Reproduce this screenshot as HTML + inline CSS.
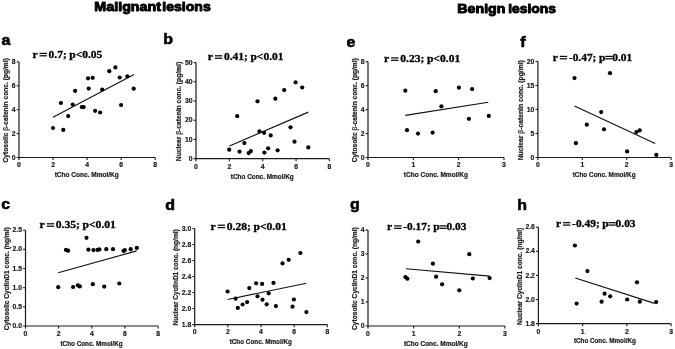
<!DOCTYPE html>
<html><head><meta charset="utf-8"><title>Scatter plots</title>
<style>html,body{margin:0;padding:0;background:#fff;}body{width:675px;height:349px;overflow:hidden;}svg{display:block;filter:grayscale(1) blur(0.3px);}</style>
</head><body>
<svg width="675" height="349" viewBox="0 0 675 349">
<rect width="675" height="349" fill="#fff"/>
<text x="94.38" y="11.1" font-family="'Liberation Sans', sans-serif" font-weight="bold" font-size="12.4" textLength="66.64" lengthAdjust="spacingAndGlyphs" fill="#000" stroke="#000" stroke-width="0.9" stroke-linejoin="round">Malignant</text>
<text x="162.38" y="11.1" font-family="'Liberation Sans', sans-serif" font-weight="bold" font-size="12.4" textLength="48.34" lengthAdjust="spacingAndGlyphs" fill="#000" stroke="#000" stroke-width="0.9" stroke-linejoin="round">lesions</text>
<text x="457.38" y="13.3" font-family="'Liberation Sans', sans-serif" font-weight="bold" font-size="12.4" textLength="48.04" lengthAdjust="spacingAndGlyphs" fill="#000" stroke="#000" stroke-width="0.9" stroke-linejoin="round">Benign</text>
<text x="508.28" y="13.3" font-family="'Liberation Sans', sans-serif" font-weight="bold" font-size="12.4" textLength="47.74" lengthAdjust="spacingAndGlyphs" fill="#000" stroke="#000" stroke-width="0.9" stroke-linejoin="round">lesions</text>
<text transform="translate(1.52,44.6) scale(1.1,1)" font-family="'Liberation Sans', sans-serif" font-weight="bold" font-size="14.5" fill="#000" stroke="#000" stroke-width="0.55">a</text>
<text transform="translate(32.41,57.8) scale(1.084,1)" font-family="'Liberation Serif', serif" font-weight="bold" font-size="10.6" fill="#000" stroke="#000" stroke-width="0.3">r</text>
<rect x="39.50" y="52.80" width="7.4" height="1.2" fill="#000"/>
<rect x="39.50" y="55.20" width="7.4" height="1.2" fill="#000"/>
<text transform="translate(48.54,57.8) scale(1.084,1)" font-family="'Liberation Serif', serif" font-weight="bold" font-size="10.6" fill="#000" stroke="#000" stroke-width="0.3">0.7;</text>
<text transform="translate(69.26,57.8) scale(1.084,1)" font-family="'Liberation Serif', serif" font-weight="bold" font-size="10.6" fill="#000" stroke="#000" stroke-width="0.3">p&lt;0.05</text>
<line x1="19" y1="61.9" x2="19" y2="160.1" stroke="#1a1a1a" stroke-width="1.2"/>
<line x1="16.6" y1="157.5" x2="155.2" y2="157.5" stroke="#1a1a1a" stroke-width="1.2"/>
<text x="19.00" y="167.30" font-family="'Liberation Sans', sans-serif" font-weight="bold" font-size="6.8" text-anchor="middle" fill="#1a1a1a" stroke="#1a1a1a" stroke-width="0.2">0</text>
<line x1="53.05" y1="157.5" x2="53.05" y2="160.1" stroke="#1a1a1a" stroke-width="1.1"/>
<text x="53.05" y="167.30" font-family="'Liberation Sans', sans-serif" font-weight="bold" font-size="6.8" text-anchor="middle" fill="#1a1a1a" stroke="#1a1a1a" stroke-width="0.2">2</text>
<line x1="87.10" y1="157.5" x2="87.10" y2="160.1" stroke="#1a1a1a" stroke-width="1.1"/>
<text x="87.10" y="167.30" font-family="'Liberation Sans', sans-serif" font-weight="bold" font-size="6.8" text-anchor="middle" fill="#1a1a1a" stroke="#1a1a1a" stroke-width="0.2">4</text>
<line x1="121.15" y1="157.5" x2="121.15" y2="160.1" stroke="#1a1a1a" stroke-width="1.1"/>
<text x="121.15" y="167.30" font-family="'Liberation Sans', sans-serif" font-weight="bold" font-size="6.8" text-anchor="middle" fill="#1a1a1a" stroke="#1a1a1a" stroke-width="0.2">6</text>
<line x1="155.20" y1="157.5" x2="155.20" y2="160.1" stroke="#1a1a1a" stroke-width="1.1"/>
<text x="155.20" y="167.30" font-family="'Liberation Sans', sans-serif" font-weight="bold" font-size="6.8" text-anchor="middle" fill="#1a1a1a" stroke="#1a1a1a" stroke-width="0.2">8</text>
<text x="15.5" y="159.60" font-family="'Liberation Sans', sans-serif" font-weight="bold" font-size="6.8" text-anchor="end" fill="#1a1a1a" stroke="#1a1a1a" stroke-width="0.2">0</text>
<line x1="16.6" y1="133.60" x2="19" y2="133.60" stroke="#1a1a1a" stroke-width="1.1"/>
<text x="15.5" y="135.70" font-family="'Liberation Sans', sans-serif" font-weight="bold" font-size="6.8" text-anchor="end" fill="#1a1a1a" stroke="#1a1a1a" stroke-width="0.2">2</text>
<line x1="16.6" y1="109.70" x2="19" y2="109.70" stroke="#1a1a1a" stroke-width="1.1"/>
<text x="15.5" y="111.80" font-family="'Liberation Sans', sans-serif" font-weight="bold" font-size="6.8" text-anchor="end" fill="#1a1a1a" stroke="#1a1a1a" stroke-width="0.2">4</text>
<line x1="16.6" y1="85.80" x2="19" y2="85.80" stroke="#1a1a1a" stroke-width="1.1"/>
<text x="15.5" y="87.90" font-family="'Liberation Sans', sans-serif" font-weight="bold" font-size="6.8" text-anchor="end" fill="#1a1a1a" stroke="#1a1a1a" stroke-width="0.2">6</text>
<line x1="16.6" y1="61.90" x2="19" y2="61.90" stroke="#1a1a1a" stroke-width="1.1"/>
<text x="15.5" y="64.00" font-family="'Liberation Sans', sans-serif" font-weight="bold" font-size="6.8" text-anchor="end" fill="#1a1a1a" stroke="#1a1a1a" stroke-width="0.2">8</text>
<text transform="translate(7.7,110.35) rotate(-90)" x="0" y="0" font-family="'Liberation Sans', sans-serif" font-weight="bold" font-size="6.5" text-anchor="middle" textLength="104.3" lengthAdjust="spacingAndGlyphs" fill="#1a1a1a" stroke="#1a1a1a" stroke-width="0.2">Cytosolic <tspan font-weight="normal">β</tspan>-catenin conc. (pg/ml)</text>
<text x="54.70" y="176.9" font-family="'Liberation Sans', sans-serif" font-weight="bold" font-size="6.5" textLength="64.1" lengthAdjust="spacingAndGlyphs" fill="#1a1a1a" stroke="#1a1a1a" stroke-width="0.2">tCho Conc. Mmol/Kg</text>
<line x1="53" y1="117.2" x2="134" y2="74.6" stroke="#111" stroke-width="1.15"/>
<circle cx="53.0" cy="128.0" r="2.1" fill="#000"/>
<circle cx="63.3" cy="129.9" r="2.1" fill="#000"/>
<circle cx="60.9" cy="103.0" r="2.1" fill="#000"/>
<circle cx="68.2" cy="116.1" r="2.1" fill="#000"/>
<circle cx="75.1" cy="90.8" r="2.1" fill="#000"/>
<circle cx="72.7" cy="104.5" r="2.1" fill="#000"/>
<circle cx="81.8" cy="107.1" r="2.1" fill="#000"/>
<circle cx="83.7" cy="107.1" r="2.1" fill="#000"/>
<circle cx="88.0" cy="78.3" r="2.1" fill="#000"/>
<circle cx="92.7" cy="77.8" r="2.1" fill="#000"/>
<circle cx="88.7" cy="88.6" r="2.1" fill="#000"/>
<circle cx="95.1" cy="110.8" r="2.1" fill="#000"/>
<circle cx="100.1" cy="112.5" r="2.1" fill="#000"/>
<circle cx="102.2" cy="89.5" r="2.1" fill="#000"/>
<circle cx="109.3" cy="71.2" r="2.1" fill="#000"/>
<circle cx="115.4" cy="67.4" r="2.1" fill="#000"/>
<circle cx="119.7" cy="77.5" r="2.1" fill="#000"/>
<circle cx="121.1" cy="105" r="2.1" fill="#000"/>
<circle cx="127.4" cy="76.3" r="2.1" fill="#000"/>
<circle cx="133.7" cy="88.7" r="2.1" fill="#000"/>
<text transform="translate(163.26,43.6) scale(1.1,1)" font-family="'Liberation Sans', sans-serif" font-weight="bold" font-size="14.5" fill="#000" stroke="#000" stroke-width="0.55">b</text>
<text transform="translate(207.81,60.2) scale(1.086,1)" font-family="'Liberation Serif', serif" font-weight="bold" font-size="10.6" fill="#000" stroke="#000" stroke-width="0.3">r</text>
<rect x="214.91" y="55.20" width="7.4" height="1.2" fill="#000"/>
<rect x="214.91" y="57.60" width="7.4" height="1.2" fill="#000"/>
<text transform="translate(223.95,60.2) scale(1.086,1)" font-family="'Liberation Serif', serif" font-weight="bold" font-size="10.6" fill="#000" stroke="#000" stroke-width="0.3">0.41;</text>
<text transform="translate(250.46,60.2) scale(1.086,1)" font-family="'Liberation Serif', serif" font-weight="bold" font-size="10.6" fill="#000" stroke="#000" stroke-width="0.3">p&lt;0.01</text>
<line x1="196" y1="62.6" x2="196" y2="161.29999999999998" stroke="#1a1a1a" stroke-width="1.2"/>
<line x1="193.6" y1="158.7" x2="329.4" y2="158.7" stroke="#1a1a1a" stroke-width="1.2"/>
<text x="196.00" y="168.50" font-family="'Liberation Sans', sans-serif" font-weight="bold" font-size="6.8" text-anchor="middle" fill="#1a1a1a" stroke="#1a1a1a" stroke-width="0.2">0</text>
<line x1="229.35" y1="158.7" x2="229.35" y2="161.29999999999998" stroke="#1a1a1a" stroke-width="1.1"/>
<text x="229.35" y="168.50" font-family="'Liberation Sans', sans-serif" font-weight="bold" font-size="6.8" text-anchor="middle" fill="#1a1a1a" stroke="#1a1a1a" stroke-width="0.2">2</text>
<line x1="262.70" y1="158.7" x2="262.70" y2="161.29999999999998" stroke="#1a1a1a" stroke-width="1.1"/>
<text x="262.70" y="168.50" font-family="'Liberation Sans', sans-serif" font-weight="bold" font-size="6.8" text-anchor="middle" fill="#1a1a1a" stroke="#1a1a1a" stroke-width="0.2">4</text>
<line x1="296.05" y1="158.7" x2="296.05" y2="161.29999999999998" stroke="#1a1a1a" stroke-width="1.1"/>
<text x="296.05" y="168.50" font-family="'Liberation Sans', sans-serif" font-weight="bold" font-size="6.8" text-anchor="middle" fill="#1a1a1a" stroke="#1a1a1a" stroke-width="0.2">6</text>
<line x1="329.40" y1="158.7" x2="329.40" y2="161.29999999999998" stroke="#1a1a1a" stroke-width="1.1"/>
<text x="329.40" y="168.50" font-family="'Liberation Sans', sans-serif" font-weight="bold" font-size="6.8" text-anchor="middle" fill="#1a1a1a" stroke="#1a1a1a" stroke-width="0.2">8</text>
<text x="192.5" y="160.80" font-family="'Liberation Sans', sans-serif" font-weight="bold" font-size="6.8" text-anchor="end" fill="#1a1a1a" stroke="#1a1a1a" stroke-width="0.2">0</text>
<line x1="193.6" y1="139.48" x2="196" y2="139.48" stroke="#1a1a1a" stroke-width="1.1"/>
<text x="192.5" y="141.58" font-family="'Liberation Sans', sans-serif" font-weight="bold" font-size="6.8" text-anchor="end" fill="#1a1a1a" stroke="#1a1a1a" stroke-width="0.2">10</text>
<line x1="193.6" y1="120.26" x2="196" y2="120.26" stroke="#1a1a1a" stroke-width="1.1"/>
<text x="192.5" y="122.36" font-family="'Liberation Sans', sans-serif" font-weight="bold" font-size="6.8" text-anchor="end" fill="#1a1a1a" stroke="#1a1a1a" stroke-width="0.2">20</text>
<line x1="193.6" y1="101.04" x2="196" y2="101.04" stroke="#1a1a1a" stroke-width="1.1"/>
<text x="192.5" y="103.14" font-family="'Liberation Sans', sans-serif" font-weight="bold" font-size="6.8" text-anchor="end" fill="#1a1a1a" stroke="#1a1a1a" stroke-width="0.2">30</text>
<line x1="193.6" y1="81.82" x2="196" y2="81.82" stroke="#1a1a1a" stroke-width="1.1"/>
<text x="192.5" y="83.92" font-family="'Liberation Sans', sans-serif" font-weight="bold" font-size="6.8" text-anchor="end" fill="#1a1a1a" stroke="#1a1a1a" stroke-width="0.2">40</text>
<line x1="193.6" y1="62.60" x2="196" y2="62.60" stroke="#1a1a1a" stroke-width="1.1"/>
<text x="192.5" y="64.70" font-family="'Liberation Sans', sans-serif" font-weight="bold" font-size="6.8" text-anchor="end" fill="#1a1a1a" stroke="#1a1a1a" stroke-width="0.2">50</text>
<text transform="translate(181,111.55) rotate(-90)" x="0" y="0" font-family="'Liberation Sans', sans-serif" font-weight="bold" font-size="6.5" text-anchor="middle" textLength="99.3" lengthAdjust="spacingAndGlyphs" fill="#1a1a1a" stroke="#1a1a1a" stroke-width="0.2">Nuclear <tspan font-weight="normal">β</tspan>-catenin conc. (pg/ml)</text>
<text x="230.80" y="178.6" font-family="'Liberation Sans', sans-serif" font-weight="bold" font-size="6.5" textLength="63.0" lengthAdjust="spacingAndGlyphs" fill="#1a1a1a" stroke="#1a1a1a" stroke-width="0.2">tCho Conc. Mmol/Kg</text>
<line x1="229.5" y1="146" x2="308.3" y2="112.1" stroke="#111" stroke-width="1.15"/>
<circle cx="229.2" cy="149.7" r="2.1" fill="#000"/>
<circle cx="237.2" cy="116.2" r="2.1" fill="#000"/>
<circle cx="239.5" cy="151.7" r="2.1" fill="#000"/>
<circle cx="244.4" cy="143.1" r="2.1" fill="#000"/>
<circle cx="248.7" cy="153.1" r="2.1" fill="#000"/>
<circle cx="250.9" cy="151.1" r="2.1" fill="#000"/>
<circle cx="257.5" cy="101.3" r="2.1" fill="#000"/>
<circle cx="259.5" cy="131.3" r="2.1" fill="#000"/>
<circle cx="264.1" cy="132.8" r="2.1" fill="#000"/>
<circle cx="264.4" cy="152.6" r="2.1" fill="#000"/>
<circle cx="268.1" cy="148.3" r="2.1" fill="#000"/>
<circle cx="270.7" cy="135.4" r="2.1" fill="#000"/>
<circle cx="275.3" cy="98.7" r="2.1" fill="#000"/>
<circle cx="277.6" cy="150.3" r="2.1" fill="#000"/>
<circle cx="284.2" cy="90.1" r="2.1" fill="#000"/>
<circle cx="290.5" cy="127.3" r="2.1" fill="#000"/>
<circle cx="294.5" cy="141.7" r="2.1" fill="#000"/>
<circle cx="295.6" cy="82.3" r="2.1" fill="#000"/>
<circle cx="302.2" cy="87.5" r="2.1" fill="#000"/>
<circle cx="308.3" cy="147.4" r="2.1" fill="#000"/>
<text transform="translate(346.56,46.9) scale(1.1,1)" font-family="'Liberation Sans', sans-serif" font-weight="bold" font-size="14.5" fill="#000" stroke="#000" stroke-width="0.55">e</text>
<text transform="translate(384.01,62.3) scale(1.095,1)" font-family="'Liberation Serif', serif" font-weight="bold" font-size="10.6" fill="#000" stroke="#000" stroke-width="0.3">r</text>
<rect x="391.14" y="57.30" width="7.4" height="1.2" fill="#000"/>
<rect x="391.14" y="59.70" width="7.4" height="1.2" fill="#000"/>
<text transform="translate(400.18,62.3) scale(1.095,1)" font-family="'Liberation Serif', serif" font-weight="bold" font-size="10.6" fill="#000" stroke="#000" stroke-width="0.3">0.23;</text>
<text transform="translate(426.89,62.3) scale(1.095,1)" font-family="'Liberation Serif', serif" font-weight="bold" font-size="10.6" fill="#000" stroke="#000" stroke-width="0.3">p&lt;0.01</text>
<line x1="368" y1="61.7" x2="368" y2="160.1" stroke="#1a1a1a" stroke-width="1.2"/>
<line x1="365.6" y1="157.5" x2="504" y2="157.5" stroke="#1a1a1a" stroke-width="1.2"/>
<text x="368.00" y="167.30" font-family="'Liberation Sans', sans-serif" font-weight="bold" font-size="6.8" text-anchor="middle" fill="#1a1a1a" stroke="#1a1a1a" stroke-width="0.2">0</text>
<line x1="413.33" y1="157.5" x2="413.33" y2="160.1" stroke="#1a1a1a" stroke-width="1.1"/>
<text x="413.33" y="167.30" font-family="'Liberation Sans', sans-serif" font-weight="bold" font-size="6.8" text-anchor="middle" fill="#1a1a1a" stroke="#1a1a1a" stroke-width="0.2">1</text>
<line x1="458.67" y1="157.5" x2="458.67" y2="160.1" stroke="#1a1a1a" stroke-width="1.1"/>
<text x="458.67" y="167.30" font-family="'Liberation Sans', sans-serif" font-weight="bold" font-size="6.8" text-anchor="middle" fill="#1a1a1a" stroke="#1a1a1a" stroke-width="0.2">2</text>
<line x1="504.00" y1="157.5" x2="504.00" y2="160.1" stroke="#1a1a1a" stroke-width="1.1"/>
<text x="504.00" y="167.30" font-family="'Liberation Sans', sans-serif" font-weight="bold" font-size="6.8" text-anchor="middle" fill="#1a1a1a" stroke="#1a1a1a" stroke-width="0.2">3</text>
<text x="364.5" y="159.60" font-family="'Liberation Sans', sans-serif" font-weight="bold" font-size="6.8" text-anchor="end" fill="#1a1a1a" stroke="#1a1a1a" stroke-width="0.2">0</text>
<line x1="365.6" y1="133.55" x2="368" y2="133.55" stroke="#1a1a1a" stroke-width="1.1"/>
<text x="364.5" y="135.65" font-family="'Liberation Sans', sans-serif" font-weight="bold" font-size="6.8" text-anchor="end" fill="#1a1a1a" stroke="#1a1a1a" stroke-width="0.2">2</text>
<line x1="365.6" y1="109.60" x2="368" y2="109.60" stroke="#1a1a1a" stroke-width="1.1"/>
<text x="364.5" y="111.70" font-family="'Liberation Sans', sans-serif" font-weight="bold" font-size="6.8" text-anchor="end" fill="#1a1a1a" stroke="#1a1a1a" stroke-width="0.2">4</text>
<line x1="365.6" y1="85.65" x2="368" y2="85.65" stroke="#1a1a1a" stroke-width="1.1"/>
<text x="364.5" y="87.75" font-family="'Liberation Sans', sans-serif" font-weight="bold" font-size="6.8" text-anchor="end" fill="#1a1a1a" stroke="#1a1a1a" stroke-width="0.2">6</text>
<line x1="365.6" y1="61.70" x2="368" y2="61.70" stroke="#1a1a1a" stroke-width="1.1"/>
<text x="364.5" y="63.80" font-family="'Liberation Sans', sans-serif" font-weight="bold" font-size="6.8" text-anchor="end" fill="#1a1a1a" stroke="#1a1a1a" stroke-width="0.2">8</text>
<text transform="translate(357.2,110.20) rotate(-90)" x="0" y="0" font-family="'Liberation Sans', sans-serif" font-weight="bold" font-size="6.5" text-anchor="middle" textLength="104.0" lengthAdjust="spacingAndGlyphs" fill="#1a1a1a" stroke="#1a1a1a" stroke-width="0.2">Cytosolic <tspan font-weight="normal">β</tspan>-catenin conc. (pg/ml)</text>
<text x="403.80" y="177" font-family="'Liberation Sans', sans-serif" font-weight="bold" font-size="6.5" textLength="64.2" lengthAdjust="spacingAndGlyphs" fill="#1a1a1a" stroke="#1a1a1a" stroke-width="0.2">tCho Conc. Mmol/Kg</text>
<line x1="405.3" y1="115.4" x2="488.3" y2="102.3" stroke="#111" stroke-width="1.15"/>
<circle cx="405.3" cy="90.7" r="2.1" fill="#000"/>
<circle cx="435.7" cy="91.2" r="2.1" fill="#000"/>
<circle cx="458.9" cy="87.7" r="2.1" fill="#000"/>
<circle cx="472.1" cy="89.1" r="2.1" fill="#000"/>
<circle cx="441.4" cy="106.3" r="2.1" fill="#000"/>
<circle cx="468.9" cy="118.8" r="2.1" fill="#000"/>
<circle cx="488.8" cy="115.9" r="2.1" fill="#000"/>
<circle cx="407" cy="130.2" r="2.1" fill="#000"/>
<circle cx="418" cy="133.6" r="2.1" fill="#000"/>
<circle cx="432.6" cy="132.6" r="2.1" fill="#000"/>
<text transform="translate(520.36,46.9) scale(1.1,1)" font-family="'Liberation Sans', sans-serif" font-weight="bold" font-size="14.5" fill="#000" stroke="#000" stroke-width="0.55">f</text>
<text transform="translate(552.71,60.8) scale(1.077,1)" font-family="'Liberation Serif', serif" font-weight="bold" font-size="10.6" fill="#000" stroke="#000" stroke-width="0.3">r</text>
<rect x="559.76" y="55.80" width="7.4" height="1.2" fill="#000"/>
<rect x="559.76" y="58.20" width="7.4" height="1.2" fill="#000"/>
<text transform="translate(568.87,60.8) scale(1.077,1)" font-family="'Liberation Serif', serif" font-weight="bold" font-size="10.6" fill="#000" stroke="#000" stroke-width="0.3">-0.47;</text>
<text transform="translate(598.98,60.8) scale(1.077,1)" font-family="'Liberation Serif', serif" font-weight="bold" font-size="10.6" fill="#000" stroke="#000" stroke-width="0.3">p</text>
<rect x="605.16" y="55.80" width="7.3" height="1.2" fill="#000"/>
<rect x="605.16" y="58.20" width="7.3" height="1.2" fill="#000"/>
<text transform="translate(612.30,60.8) scale(1.077,1)" font-family="'Liberation Serif', serif" font-weight="bold" font-size="10.6" fill="#000" stroke="#000" stroke-width="0.3">0.01</text>
<line x1="537.9" y1="61.4" x2="537.9" y2="160.1" stroke="#1a1a1a" stroke-width="1.2"/>
<line x1="535.5" y1="157.5" x2="671.1" y2="157.5" stroke="#1a1a1a" stroke-width="1.2"/>
<text x="537.90" y="167.30" font-family="'Liberation Sans', sans-serif" font-weight="bold" font-size="6.8" text-anchor="middle" fill="#1a1a1a" stroke="#1a1a1a" stroke-width="0.2">0</text>
<line x1="582.30" y1="157.5" x2="582.30" y2="160.1" stroke="#1a1a1a" stroke-width="1.1"/>
<text x="582.30" y="167.30" font-family="'Liberation Sans', sans-serif" font-weight="bold" font-size="6.8" text-anchor="middle" fill="#1a1a1a" stroke="#1a1a1a" stroke-width="0.2">1</text>
<line x1="626.70" y1="157.5" x2="626.70" y2="160.1" stroke="#1a1a1a" stroke-width="1.1"/>
<text x="626.70" y="167.30" font-family="'Liberation Sans', sans-serif" font-weight="bold" font-size="6.8" text-anchor="middle" fill="#1a1a1a" stroke="#1a1a1a" stroke-width="0.2">2</text>
<line x1="671.10" y1="157.5" x2="671.10" y2="160.1" stroke="#1a1a1a" stroke-width="1.1"/>
<text x="671.10" y="167.30" font-family="'Liberation Sans', sans-serif" font-weight="bold" font-size="6.8" text-anchor="middle" fill="#1a1a1a" stroke="#1a1a1a" stroke-width="0.2">3</text>
<text x="534.4" y="159.60" font-family="'Liberation Sans', sans-serif" font-weight="bold" font-size="6.8" text-anchor="end" fill="#1a1a1a" stroke="#1a1a1a" stroke-width="0.2">0</text>
<line x1="535.5" y1="133.47" x2="537.9" y2="133.47" stroke="#1a1a1a" stroke-width="1.1"/>
<text x="534.4" y="135.57" font-family="'Liberation Sans', sans-serif" font-weight="bold" font-size="6.8" text-anchor="end" fill="#1a1a1a" stroke="#1a1a1a" stroke-width="0.2">5</text>
<line x1="535.5" y1="109.45" x2="537.9" y2="109.45" stroke="#1a1a1a" stroke-width="1.1"/>
<text x="534.4" y="111.55" font-family="'Liberation Sans', sans-serif" font-weight="bold" font-size="6.8" text-anchor="end" fill="#1a1a1a" stroke="#1a1a1a" stroke-width="0.2">10</text>
<line x1="535.5" y1="85.43" x2="537.9" y2="85.43" stroke="#1a1a1a" stroke-width="1.1"/>
<text x="534.4" y="87.53" font-family="'Liberation Sans', sans-serif" font-weight="bold" font-size="6.8" text-anchor="end" fill="#1a1a1a" stroke="#1a1a1a" stroke-width="0.2">15</text>
<line x1="535.5" y1="61.40" x2="537.9" y2="61.40" stroke="#1a1a1a" stroke-width="1.1"/>
<text x="534.4" y="63.50" font-family="'Liberation Sans', sans-serif" font-weight="bold" font-size="6.8" text-anchor="end" fill="#1a1a1a" stroke="#1a1a1a" stroke-width="0.2">20</text>
<text transform="translate(523,110.25) rotate(-90)" x="0" y="0" font-family="'Liberation Sans', sans-serif" font-weight="bold" font-size="6.5" text-anchor="middle" textLength="100.1" lengthAdjust="spacingAndGlyphs" fill="#1a1a1a" stroke="#1a1a1a" stroke-width="0.2">Nuclear <tspan font-weight="normal">β</tspan>-catenin conc. (pg/ml)</text>
<text x="572.70" y="177" font-family="'Liberation Sans', sans-serif" font-weight="bold" font-size="6.5" textLength="62.9" lengthAdjust="spacingAndGlyphs" fill="#1a1a1a" stroke="#1a1a1a" stroke-width="0.2">tCho Conc. Mmol/Kg</text>
<line x1="574.5" y1="105.9" x2="655.2" y2="143.5" stroke="#111" stroke-width="1.15"/>
<circle cx="574.5" cy="78.1" r="2.1" fill="#000"/>
<circle cx="610" cy="73.2" r="2.1" fill="#000"/>
<circle cx="601.2" cy="112.1" r="2.1" fill="#000"/>
<circle cx="586.8" cy="124.7" r="2.1" fill="#000"/>
<circle cx="604" cy="129.3" r="2.1" fill="#000"/>
<circle cx="575.9" cy="143.2" r="2.1" fill="#000"/>
<circle cx="636.4" cy="132" r="2.1" fill="#000"/>
<circle cx="639.7" cy="130.4" r="2.1" fill="#000"/>
<circle cx="627.1" cy="151.4" r="2.1" fill="#000"/>
<circle cx="656.3" cy="154.9" r="2.1" fill="#000"/>
<text transform="translate(1.36,209) scale(1.1,1)" font-family="'Liberation Sans', sans-serif" font-weight="bold" font-size="14.5" fill="#000" stroke="#000" stroke-width="0.55">c</text>
<text transform="translate(39.61,228.2) scale(1.097,1)" font-family="'Liberation Serif', serif" font-weight="bold" font-size="10.6" fill="#000" stroke="#000" stroke-width="0.3">r</text>
<rect x="46.75" y="223.20" width="7.4" height="1.2" fill="#000"/>
<rect x="46.75" y="225.60" width="7.4" height="1.2" fill="#000"/>
<text transform="translate(55.79,228.2) scale(1.097,1)" font-family="'Liberation Serif', serif" font-weight="bold" font-size="10.6" fill="#000" stroke="#000" stroke-width="0.3">0.35;</text>
<text transform="translate(82.53,228.2) scale(1.097,1)" font-family="'Liberation Serif', serif" font-weight="bold" font-size="10.6" fill="#000" stroke="#000" stroke-width="0.3">p&lt;0.01</text>
<line x1="25.5" y1="230.2" x2="25.5" y2="328.6" stroke="#1a1a1a" stroke-width="1.2"/>
<line x1="23.1" y1="326" x2="158.1" y2="326" stroke="#1a1a1a" stroke-width="1.2"/>
<text x="25.50" y="335.80" font-family="'Liberation Sans', sans-serif" font-weight="bold" font-size="6.8" text-anchor="middle" fill="#1a1a1a" stroke="#1a1a1a" stroke-width="0.2">0</text>
<line x1="58.65" y1="326" x2="58.65" y2="328.6" stroke="#1a1a1a" stroke-width="1.1"/>
<text x="58.65" y="335.80" font-family="'Liberation Sans', sans-serif" font-weight="bold" font-size="6.8" text-anchor="middle" fill="#1a1a1a" stroke="#1a1a1a" stroke-width="0.2">2</text>
<line x1="91.80" y1="326" x2="91.80" y2="328.6" stroke="#1a1a1a" stroke-width="1.1"/>
<text x="91.80" y="335.80" font-family="'Liberation Sans', sans-serif" font-weight="bold" font-size="6.8" text-anchor="middle" fill="#1a1a1a" stroke="#1a1a1a" stroke-width="0.2">4</text>
<line x1="124.95" y1="326" x2="124.95" y2="328.6" stroke="#1a1a1a" stroke-width="1.1"/>
<text x="124.95" y="335.80" font-family="'Liberation Sans', sans-serif" font-weight="bold" font-size="6.8" text-anchor="middle" fill="#1a1a1a" stroke="#1a1a1a" stroke-width="0.2">6</text>
<line x1="158.10" y1="326" x2="158.10" y2="328.6" stroke="#1a1a1a" stroke-width="1.1"/>
<text x="158.10" y="335.80" font-family="'Liberation Sans', sans-serif" font-weight="bold" font-size="6.8" text-anchor="middle" fill="#1a1a1a" stroke="#1a1a1a" stroke-width="0.2">8</text>
<text x="22.0" y="328.10" font-family="'Liberation Sans', sans-serif" font-weight="bold" font-size="6.8" text-anchor="end" fill="#1a1a1a" stroke="#1a1a1a" stroke-width="0.2">0.0</text>
<line x1="23.1" y1="306.84" x2="25.5" y2="306.84" stroke="#1a1a1a" stroke-width="1.1"/>
<text x="22.0" y="308.94" font-family="'Liberation Sans', sans-serif" font-weight="bold" font-size="6.8" text-anchor="end" fill="#1a1a1a" stroke="#1a1a1a" stroke-width="0.2">0.5</text>
<line x1="23.1" y1="287.68" x2="25.5" y2="287.68" stroke="#1a1a1a" stroke-width="1.1"/>
<text x="22.0" y="289.78" font-family="'Liberation Sans', sans-serif" font-weight="bold" font-size="6.8" text-anchor="end" fill="#1a1a1a" stroke="#1a1a1a" stroke-width="0.2">1.0</text>
<line x1="23.1" y1="268.52" x2="25.5" y2="268.52" stroke="#1a1a1a" stroke-width="1.1"/>
<text x="22.0" y="270.62" font-family="'Liberation Sans', sans-serif" font-weight="bold" font-size="6.8" text-anchor="end" fill="#1a1a1a" stroke="#1a1a1a" stroke-width="0.2">1.5</text>
<line x1="23.1" y1="249.36" x2="25.5" y2="249.36" stroke="#1a1a1a" stroke-width="1.1"/>
<text x="22.0" y="251.46" font-family="'Liberation Sans', sans-serif" font-weight="bold" font-size="6.8" text-anchor="end" fill="#1a1a1a" stroke="#1a1a1a" stroke-width="0.2">2.0</text>
<line x1="23.1" y1="230.20" x2="25.5" y2="230.20" stroke="#1a1a1a" stroke-width="1.1"/>
<text x="22.0" y="232.30" font-family="'Liberation Sans', sans-serif" font-weight="bold" font-size="6.8" text-anchor="end" fill="#1a1a1a" stroke="#1a1a1a" stroke-width="0.2">2.5</text>
<text transform="translate(9,278.80) rotate(-90)" x="0" y="0" font-family="'Liberation Sans', sans-serif" font-weight="bold" font-size="6.5" text-anchor="middle" textLength="103.0" lengthAdjust="spacingAndGlyphs" fill="#1a1a1a" stroke="#1a1a1a" stroke-width="0.2">Cytosolic CyclinD1 conc. (ng/ml)</text>
<text x="60.50" y="345.6" font-family="'Liberation Sans', sans-serif" font-weight="bold" font-size="6.5" textLength="62.2" lengthAdjust="spacingAndGlyphs" fill="#1a1a1a" stroke="#1a1a1a" stroke-width="0.2">tCho Conc. Mmol/Kg</text>
<line x1="58.2" y1="272.8" x2="136.6" y2="250.9" stroke="#111" stroke-width="1.15"/>
<circle cx="58.2" cy="287.2" r="2.1" fill="#000"/>
<circle cx="66" cy="249.9" r="2.1" fill="#000"/>
<circle cx="68.1" cy="250.7" r="2.1" fill="#000"/>
<circle cx="73.1" cy="287" r="2.1" fill="#000"/>
<circle cx="77.8" cy="285.3" r="2.1" fill="#000"/>
<circle cx="79.8" cy="286.4" r="2.1" fill="#000"/>
<circle cx="86.5" cy="237.8" r="2.1" fill="#000"/>
<circle cx="88.4" cy="249.7" r="2.1" fill="#000"/>
<circle cx="92.8" cy="284.2" r="2.1" fill="#000"/>
<circle cx="93.4" cy="250.1" r="2.1" fill="#000"/>
<circle cx="97.5" cy="249.9" r="2.1" fill="#000"/>
<circle cx="99.4" cy="249.4" r="2.1" fill="#000"/>
<circle cx="104.2" cy="286.6" r="2.1" fill="#000"/>
<circle cx="106.3" cy="249.2" r="2.1" fill="#000"/>
<circle cx="113" cy="249.2" r="2.1" fill="#000"/>
<circle cx="119.3" cy="283.5" r="2.1" fill="#000"/>
<circle cx="123.6" cy="250.9" r="2.1" fill="#000"/>
<circle cx="124.9" cy="250.1" r="2.1" fill="#000"/>
<circle cx="130.7" cy="249.2" r="2.1" fill="#000"/>
<circle cx="136.8" cy="247.9" r="2.1" fill="#000"/>
<text transform="translate(165.36,209.5) scale(1.1,1)" font-family="'Liberation Sans', sans-serif" font-weight="bold" font-size="14.5" fill="#000" stroke="#000" stroke-width="0.55">d</text>
<text transform="translate(210.61,229.6) scale(1.094,1)" font-family="'Liberation Serif', serif" font-weight="bold" font-size="10.6" fill="#000" stroke="#000" stroke-width="0.3">r</text>
<rect x="217.74" y="224.60" width="7.4" height="1.2" fill="#000"/>
<rect x="217.74" y="227.00" width="7.4" height="1.2" fill="#000"/>
<text transform="translate(226.77,229.6) scale(1.094,1)" font-family="'Liberation Serif', serif" font-weight="bold" font-size="10.6" fill="#000" stroke="#000" stroke-width="0.3">0.28;</text>
<text transform="translate(253.44,229.6) scale(1.094,1)" font-family="'Liberation Serif', serif" font-weight="bold" font-size="10.6" fill="#000" stroke="#000" stroke-width="0.3">p&lt;0.01</text>
<line x1="194.7" y1="228.6" x2="194.7" y2="327.20000000000005" stroke="#1a1a1a" stroke-width="1.2"/>
<line x1="192.29999999999998" y1="324.6" x2="327.3" y2="324.6" stroke="#1a1a1a" stroke-width="1.2"/>
<text x="194.70" y="334.40" font-family="'Liberation Sans', sans-serif" font-weight="bold" font-size="6.8" text-anchor="middle" fill="#1a1a1a" stroke="#1a1a1a" stroke-width="0.2">0</text>
<line x1="227.85" y1="324.6" x2="227.85" y2="327.20000000000005" stroke="#1a1a1a" stroke-width="1.1"/>
<text x="227.85" y="334.40" font-family="'Liberation Sans', sans-serif" font-weight="bold" font-size="6.8" text-anchor="middle" fill="#1a1a1a" stroke="#1a1a1a" stroke-width="0.2">2</text>
<line x1="261.00" y1="324.6" x2="261.00" y2="327.20000000000005" stroke="#1a1a1a" stroke-width="1.1"/>
<text x="261.00" y="334.40" font-family="'Liberation Sans', sans-serif" font-weight="bold" font-size="6.8" text-anchor="middle" fill="#1a1a1a" stroke="#1a1a1a" stroke-width="0.2">4</text>
<line x1="294.15" y1="324.6" x2="294.15" y2="327.20000000000005" stroke="#1a1a1a" stroke-width="1.1"/>
<text x="294.15" y="334.40" font-family="'Liberation Sans', sans-serif" font-weight="bold" font-size="6.8" text-anchor="middle" fill="#1a1a1a" stroke="#1a1a1a" stroke-width="0.2">6</text>
<line x1="327.30" y1="324.6" x2="327.30" y2="327.20000000000005" stroke="#1a1a1a" stroke-width="1.1"/>
<text x="327.30" y="334.40" font-family="'Liberation Sans', sans-serif" font-weight="bold" font-size="6.8" text-anchor="middle" fill="#1a1a1a" stroke="#1a1a1a" stroke-width="0.2">8</text>
<text x="191.2" y="326.70" font-family="'Liberation Sans', sans-serif" font-weight="bold" font-size="6.8" text-anchor="end" fill="#1a1a1a" stroke="#1a1a1a" stroke-width="0.2">1.8</text>
<line x1="192.29999999999998" y1="308.60" x2="194.7" y2="308.60" stroke="#1a1a1a" stroke-width="1.1"/>
<text x="191.2" y="310.70" font-family="'Liberation Sans', sans-serif" font-weight="bold" font-size="6.8" text-anchor="end" fill="#1a1a1a" stroke="#1a1a1a" stroke-width="0.2">2.0</text>
<line x1="192.29999999999998" y1="292.60" x2="194.7" y2="292.60" stroke="#1a1a1a" stroke-width="1.1"/>
<text x="191.2" y="294.70" font-family="'Liberation Sans', sans-serif" font-weight="bold" font-size="6.8" text-anchor="end" fill="#1a1a1a" stroke="#1a1a1a" stroke-width="0.2">2.2</text>
<line x1="192.29999999999998" y1="276.60" x2="194.7" y2="276.60" stroke="#1a1a1a" stroke-width="1.1"/>
<text x="191.2" y="278.70" font-family="'Liberation Sans', sans-serif" font-weight="bold" font-size="6.8" text-anchor="end" fill="#1a1a1a" stroke="#1a1a1a" stroke-width="0.2">2.4</text>
<line x1="192.29999999999998" y1="260.60" x2="194.7" y2="260.60" stroke="#1a1a1a" stroke-width="1.1"/>
<text x="191.2" y="262.70" font-family="'Liberation Sans', sans-serif" font-weight="bold" font-size="6.8" text-anchor="end" fill="#1a1a1a" stroke="#1a1a1a" stroke-width="0.2">2.6</text>
<line x1="192.29999999999998" y1="244.60" x2="194.7" y2="244.60" stroke="#1a1a1a" stroke-width="1.1"/>
<text x="191.2" y="246.70" font-family="'Liberation Sans', sans-serif" font-weight="bold" font-size="6.8" text-anchor="end" fill="#1a1a1a" stroke="#1a1a1a" stroke-width="0.2">2.8</text>
<line x1="192.29999999999998" y1="228.60" x2="194.7" y2="228.60" stroke="#1a1a1a" stroke-width="1.1"/>
<text x="191.2" y="230.70" font-family="'Liberation Sans', sans-serif" font-weight="bold" font-size="6.8" text-anchor="end" fill="#1a1a1a" stroke="#1a1a1a" stroke-width="0.2">3.0</text>
<text transform="translate(178.3,277.40) rotate(-90)" x="0" y="0" font-family="'Liberation Sans', sans-serif" font-weight="bold" font-size="6.5" text-anchor="middle" textLength="96.2" lengthAdjust="spacingAndGlyphs" fill="#1a1a1a" stroke="#1a1a1a" stroke-width="0.2">Nuclear CyclinD1 conc. (ng/ml)</text>
<text x="229.70" y="343.8" font-family="'Liberation Sans', sans-serif" font-weight="bold" font-size="6.5" textLength="62.2" lengthAdjust="spacingAndGlyphs" fill="#1a1a1a" stroke="#1a1a1a" stroke-width="0.2">tCho Conc. Mmol/Kg</text>
<line x1="227.6" y1="299.5" x2="306.4" y2="283.3" stroke="#111" stroke-width="1.15"/>
<circle cx="227.6" cy="291.5" r="2.1" fill="#000"/>
<circle cx="235.6" cy="298.7" r="2.1" fill="#000"/>
<circle cx="237.8" cy="307.9" r="2.1" fill="#000"/>
<circle cx="242.6" cy="304.5" r="2.1" fill="#000"/>
<circle cx="247.1" cy="302.1" r="2.1" fill="#000"/>
<circle cx="249.3" cy="288.1" r="2.1" fill="#000"/>
<circle cx="256.1" cy="283.3" r="2.1" fill="#000"/>
<circle cx="257.5" cy="296.3" r="2.1" fill="#000"/>
<circle cx="262.1" cy="283.9" r="2.1" fill="#000"/>
<circle cx="262.5" cy="299.7" r="2.1" fill="#000"/>
<circle cx="266.7" cy="304.3" r="2.1" fill="#000"/>
<circle cx="268.7" cy="293.3" r="2.1" fill="#000"/>
<circle cx="273.5" cy="282.9" r="2.1" fill="#000"/>
<circle cx="275.9" cy="306.1" r="2.1" fill="#000"/>
<circle cx="282.5" cy="263.4" r="2.1" fill="#000"/>
<circle cx="288.7" cy="259.8" r="2.1" fill="#000"/>
<circle cx="292.5" cy="306.7" r="2.1" fill="#000"/>
<circle cx="293.9" cy="299.5" r="2.1" fill="#000"/>
<circle cx="300.4" cy="253" r="2.1" fill="#000"/>
<circle cx="306.4" cy="312.1" r="2.1" fill="#000"/>
<text transform="translate(350.06,208.7) scale(1.1,1)" font-family="'Liberation Sans', sans-serif" font-weight="bold" font-size="14.5" fill="#000" stroke="#000" stroke-width="0.55">g</text>
<text transform="translate(387.12,230.3) scale(1.073,1)" font-family="'Liberation Serif', serif" font-weight="bold" font-size="10.6" fill="#000" stroke="#000" stroke-width="0.3">r</text>
<rect x="394.15" y="225.30" width="7.4" height="1.2" fill="#000"/>
<rect x="394.15" y="227.70" width="7.4" height="1.2" fill="#000"/>
<text transform="translate(403.25,230.3) scale(1.073,1)" font-family="'Liberation Serif', serif" font-weight="bold" font-size="10.6" fill="#000" stroke="#000" stroke-width="0.3">-0.17;</text>
<text transform="translate(433.28,230.3) scale(1.073,1)" font-family="'Liberation Serif', serif" font-weight="bold" font-size="10.6" fill="#000" stroke="#000" stroke-width="0.3">p</text>
<rect x="439.44" y="225.30" width="7.3" height="1.2" fill="#000"/>
<rect x="439.44" y="227.70" width="7.3" height="1.2" fill="#000"/>
<text transform="translate(446.59,230.3) scale(1.073,1)" font-family="'Liberation Serif', serif" font-weight="bold" font-size="10.6" fill="#000" stroke="#000" stroke-width="0.3">0.03</text>
<line x1="368" y1="230" x2="368" y2="328.6" stroke="#1a1a1a" stroke-width="1.2"/>
<line x1="365.6" y1="326" x2="504.9" y2="326" stroke="#1a1a1a" stroke-width="1.2"/>
<text x="368.00" y="335.80" font-family="'Liberation Sans', sans-serif" font-weight="bold" font-size="6.8" text-anchor="middle" fill="#1a1a1a" stroke="#1a1a1a" stroke-width="0.2">0</text>
<line x1="413.63" y1="326" x2="413.63" y2="328.6" stroke="#1a1a1a" stroke-width="1.1"/>
<text x="413.63" y="335.80" font-family="'Liberation Sans', sans-serif" font-weight="bold" font-size="6.8" text-anchor="middle" fill="#1a1a1a" stroke="#1a1a1a" stroke-width="0.2">1</text>
<line x1="459.27" y1="326" x2="459.27" y2="328.6" stroke="#1a1a1a" stroke-width="1.1"/>
<text x="459.27" y="335.80" font-family="'Liberation Sans', sans-serif" font-weight="bold" font-size="6.8" text-anchor="middle" fill="#1a1a1a" stroke="#1a1a1a" stroke-width="0.2">2</text>
<line x1="504.90" y1="326" x2="504.90" y2="328.6" stroke="#1a1a1a" stroke-width="1.1"/>
<text x="504.90" y="335.80" font-family="'Liberation Sans', sans-serif" font-weight="bold" font-size="6.8" text-anchor="middle" fill="#1a1a1a" stroke="#1a1a1a" stroke-width="0.2">3</text>
<text x="364.5" y="328.10" font-family="'Liberation Sans', sans-serif" font-weight="bold" font-size="6.8" text-anchor="end" fill="#1a1a1a" stroke="#1a1a1a" stroke-width="0.2">0</text>
<line x1="365.6" y1="302.00" x2="368" y2="302.00" stroke="#1a1a1a" stroke-width="1.1"/>
<text x="364.5" y="304.10" font-family="'Liberation Sans', sans-serif" font-weight="bold" font-size="6.8" text-anchor="end" fill="#1a1a1a" stroke="#1a1a1a" stroke-width="0.2">1</text>
<line x1="365.6" y1="278.00" x2="368" y2="278.00" stroke="#1a1a1a" stroke-width="1.1"/>
<text x="364.5" y="280.10" font-family="'Liberation Sans', sans-serif" font-weight="bold" font-size="6.8" text-anchor="end" fill="#1a1a1a" stroke="#1a1a1a" stroke-width="0.2">2</text>
<line x1="365.6" y1="254.00" x2="368" y2="254.00" stroke="#1a1a1a" stroke-width="1.1"/>
<text x="364.5" y="256.10" font-family="'Liberation Sans', sans-serif" font-weight="bold" font-size="6.8" text-anchor="end" fill="#1a1a1a" stroke="#1a1a1a" stroke-width="0.2">3</text>
<line x1="365.6" y1="230.00" x2="368" y2="230.00" stroke="#1a1a1a" stroke-width="1.1"/>
<text x="364.5" y="232.10" font-family="'Liberation Sans', sans-serif" font-weight="bold" font-size="6.8" text-anchor="end" fill="#1a1a1a" stroke="#1a1a1a" stroke-width="0.2">4</text>
<text transform="translate(357.3,278.60) rotate(-90)" x="0" y="0" font-family="'Liberation Sans', sans-serif" font-weight="bold" font-size="6.5" text-anchor="middle" textLength="102.6" lengthAdjust="spacingAndGlyphs" fill="#1a1a1a" stroke="#1a1a1a" stroke-width="0.2">Cytosolic CyclinD1 conc. (ng/ml)</text>
<text x="403.90" y="345.8" font-family="'Liberation Sans', sans-serif" font-weight="bold" font-size="6.5" textLength="63.8" lengthAdjust="spacingAndGlyphs" fill="#1a1a1a" stroke="#1a1a1a" stroke-width="0.2">tCho Conc. Mmol/Kg</text>
<line x1="406" y1="268.7" x2="489.6" y2="276.1" stroke="#111" stroke-width="1.15"/>
<circle cx="405.4" cy="277.1" r="2.1" fill="#000"/>
<circle cx="407.4" cy="278.7" r="2.1" fill="#000"/>
<circle cx="418.2" cy="241.6" r="2.1" fill="#000"/>
<circle cx="432.9" cy="263.7" r="2.1" fill="#000"/>
<circle cx="436.1" cy="276.7" r="2.1" fill="#000"/>
<circle cx="442.1" cy="284.3" r="2.1" fill="#000"/>
<circle cx="459.3" cy="290.3" r="2.1" fill="#000"/>
<circle cx="469.3" cy="254.2" r="2.1" fill="#000"/>
<circle cx="472.8" cy="278.5" r="2.1" fill="#000"/>
<circle cx="489.6" cy="278.1" r="2.1" fill="#000"/>
<text transform="translate(517.18,209.5) scale(1.1,1)" font-family="'Liberation Sans', sans-serif" font-weight="bold" font-size="14.5" fill="#000" stroke="#000" stroke-width="0.55">h</text>
<text transform="translate(555.91,227.1) scale(1.079,1)" font-family="'Liberation Serif', serif" font-weight="bold" font-size="10.6" fill="#000" stroke="#000" stroke-width="0.3">r</text>
<rect x="562.98" y="222.10" width="7.4" height="1.2" fill="#000"/>
<rect x="562.98" y="224.50" width="7.4" height="1.2" fill="#000"/>
<text transform="translate(572.08,227.1) scale(1.079,1)" font-family="'Liberation Serif', serif" font-weight="bold" font-size="10.6" fill="#000" stroke="#000" stroke-width="0.3">-0.49;</text>
<text transform="translate(602.25,227.1) scale(1.079,1)" font-family="'Liberation Serif', serif" font-weight="bold" font-size="10.6" fill="#000" stroke="#000" stroke-width="0.3">p</text>
<rect x="608.44" y="222.10" width="7.3" height="1.2" fill="#000"/>
<rect x="608.44" y="224.50" width="7.3" height="1.2" fill="#000"/>
<text transform="translate(615.58,227.1) scale(1.079,1)" font-family="'Liberation Serif', serif" font-weight="bold" font-size="10.6" fill="#000" stroke="#000" stroke-width="0.3">0.03</text>
<line x1="538.4" y1="227.2" x2="538.4" y2="326.3" stroke="#1a1a1a" stroke-width="1.2"/>
<line x1="536.0" y1="323.7" x2="671.1" y2="323.7" stroke="#1a1a1a" stroke-width="1.2"/>
<text x="538.40" y="333.50" font-family="'Liberation Sans', sans-serif" font-weight="bold" font-size="6.8" text-anchor="middle" fill="#1a1a1a" stroke="#1a1a1a" stroke-width="0.2">0</text>
<line x1="582.63" y1="323.7" x2="582.63" y2="326.3" stroke="#1a1a1a" stroke-width="1.1"/>
<text x="582.63" y="333.50" font-family="'Liberation Sans', sans-serif" font-weight="bold" font-size="6.8" text-anchor="middle" fill="#1a1a1a" stroke="#1a1a1a" stroke-width="0.2">1</text>
<line x1="626.87" y1="323.7" x2="626.87" y2="326.3" stroke="#1a1a1a" stroke-width="1.1"/>
<text x="626.87" y="333.50" font-family="'Liberation Sans', sans-serif" font-weight="bold" font-size="6.8" text-anchor="middle" fill="#1a1a1a" stroke="#1a1a1a" stroke-width="0.2">2</text>
<line x1="671.10" y1="323.7" x2="671.10" y2="326.3" stroke="#1a1a1a" stroke-width="1.1"/>
<text x="671.10" y="333.50" font-family="'Liberation Sans', sans-serif" font-weight="bold" font-size="6.8" text-anchor="middle" fill="#1a1a1a" stroke="#1a1a1a" stroke-width="0.2">3</text>
<text x="534.9" y="325.80" font-family="'Liberation Sans', sans-serif" font-weight="bold" font-size="6.8" text-anchor="end" fill="#1a1a1a" stroke="#1a1a1a" stroke-width="0.2">1.8</text>
<line x1="536.0" y1="299.57" x2="538.4" y2="299.57" stroke="#1a1a1a" stroke-width="1.1"/>
<text x="534.9" y="301.68" font-family="'Liberation Sans', sans-serif" font-weight="bold" font-size="6.8" text-anchor="end" fill="#1a1a1a" stroke="#1a1a1a" stroke-width="0.2">2.0</text>
<line x1="536.0" y1="275.45" x2="538.4" y2="275.45" stroke="#1a1a1a" stroke-width="1.1"/>
<text x="534.9" y="277.55" font-family="'Liberation Sans', sans-serif" font-weight="bold" font-size="6.8" text-anchor="end" fill="#1a1a1a" stroke="#1a1a1a" stroke-width="0.2">2.2</text>
<line x1="536.0" y1="251.32" x2="538.4" y2="251.32" stroke="#1a1a1a" stroke-width="1.1"/>
<text x="534.9" y="253.42" font-family="'Liberation Sans', sans-serif" font-weight="bold" font-size="6.8" text-anchor="end" fill="#1a1a1a" stroke="#1a1a1a" stroke-width="0.2">2.4</text>
<line x1="536.0" y1="227.20" x2="538.4" y2="227.20" stroke="#1a1a1a" stroke-width="1.1"/>
<text x="534.9" y="229.30" font-family="'Liberation Sans', sans-serif" font-weight="bold" font-size="6.8" text-anchor="end" fill="#1a1a1a" stroke="#1a1a1a" stroke-width="0.2">2.6</text>
<text transform="translate(522.3,276.45) rotate(-90)" x="0" y="0" font-family="'Liberation Sans', sans-serif" font-weight="bold" font-size="6.5" text-anchor="middle" textLength="97.3" lengthAdjust="spacingAndGlyphs" fill="#1a1a1a" stroke="#1a1a1a" stroke-width="0.2">Nuclear CyclinD1 conc. (ng/ml)</text>
<text x="573.90" y="343.4" font-family="'Liberation Sans', sans-serif" font-weight="bold" font-size="6.5" textLength="61.9" lengthAdjust="spacingAndGlyphs" fill="#1a1a1a" stroke="#1a1a1a" stroke-width="0.2">tCho Conc. Mmol/Kg</text>
<line x1="575.3" y1="278" x2="654.5" y2="303.4" stroke="#111" stroke-width="1.15"/>
<circle cx="574.9" cy="245.5" r="2.1" fill="#000"/>
<circle cx="576.6" cy="303.6" r="2.1" fill="#000"/>
<circle cx="587.4" cy="271.1" r="2.1" fill="#000"/>
<circle cx="601.6" cy="301.7" r="2.1" fill="#000"/>
<circle cx="604.6" cy="293.7" r="2.1" fill="#000"/>
<circle cx="610.2" cy="296.3" r="2.1" fill="#000"/>
<circle cx="627.2" cy="299.5" r="2.1" fill="#000"/>
<circle cx="637" cy="282.3" r="2.1" fill="#000"/>
<circle cx="639.8" cy="301.7" r="2.1" fill="#000"/>
<circle cx="656.2" cy="302.1" r="2.1" fill="#000"/>
</svg>
</body></html>
